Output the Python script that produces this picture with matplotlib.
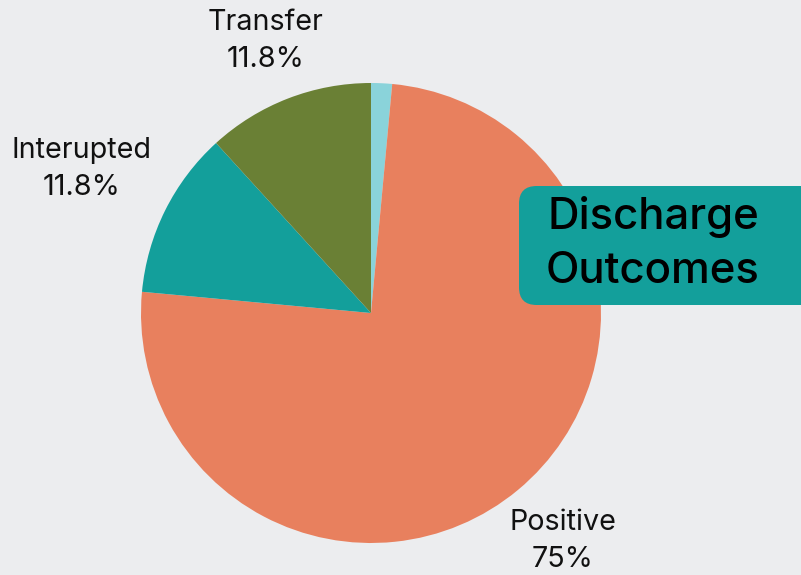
#!/usr/bin/env python3
from __future__ import annotations

import matplotlib
matplotlib.use("Agg")
import matplotlib.pyplot as plt
from matplotlib.patches import FancyBboxPatch

# discharge counts (Other slice has no label in the source chart)
categories = ["Other", "Positive", "Interupted", "Transfer"]
counts = [1, 51, 8, 8]
slice_colors = ["#8AD3DA", "#E8805E", "#139F9B", "#6A8035"]
shown_labels = ["", "Positive\n75%", "Interupted\n11.8%", "Transfer\n11.8%"]

BG = "#ECEDEF"
W, H = 801, 575

plt.rcParams["font.family"] = ["Inter", "DejaVu Sans"]

fig = plt.figure(figsize=(W / 100, H / 100), dpi=100, facecolor=BG)

cx, cy, r = 371, 313, 230
ax = fig.add_axes([(cx - r) / W, (H - cy - r) / H, 2 * r / W, 2 * r / H])
ax.set_facecolor(BG)
wedges, _ = ax.pie(
    counts,
    colors=slice_colors,
    startangle=90,
    counterclock=False,
    radius=1.0,
    wedgeprops=dict(linewidth=0),
)
ax.set_xlim(-1, 1)
ax.set_ylim(-1, 1)
ax.set_aspect("equal")
ax.axis("off")

# labels placed around the pie, in pixel positions of the figure
label_pos = {"Transfer": (266, 41), "Interupted": (82, 169), "Positive": (563, 541)}
for cat, lab in zip(categories, shown_labels):
    if not lab:
        continue
    x, y = label_pos[cat]
    fig.text(x / W, 1 - y / H, lab, ha="center", va="center",
             fontsize=20.7, color="#111111", linespacing=1.5)

# title box
box = FancyBboxPatch((519 / W, 1 - 305 / H), 300 / W, 119 / H,
                     boxstyle="round,pad=0,rounding_size=0.022",
                     transform=fig.transFigure, facecolor="#139F9B",
                     edgecolor="none", mutation_aspect=W / H)
fig.patches.append(box)
fig.text(653 / W, 1 - 244 / H, "Discharge\nOutcomes", ha="center", va="center",
         fontsize=31.5, fontweight="medium", color="black", linespacing=1.38)

fig.savefig("out.png", dpi=100, facecolor=BG)
